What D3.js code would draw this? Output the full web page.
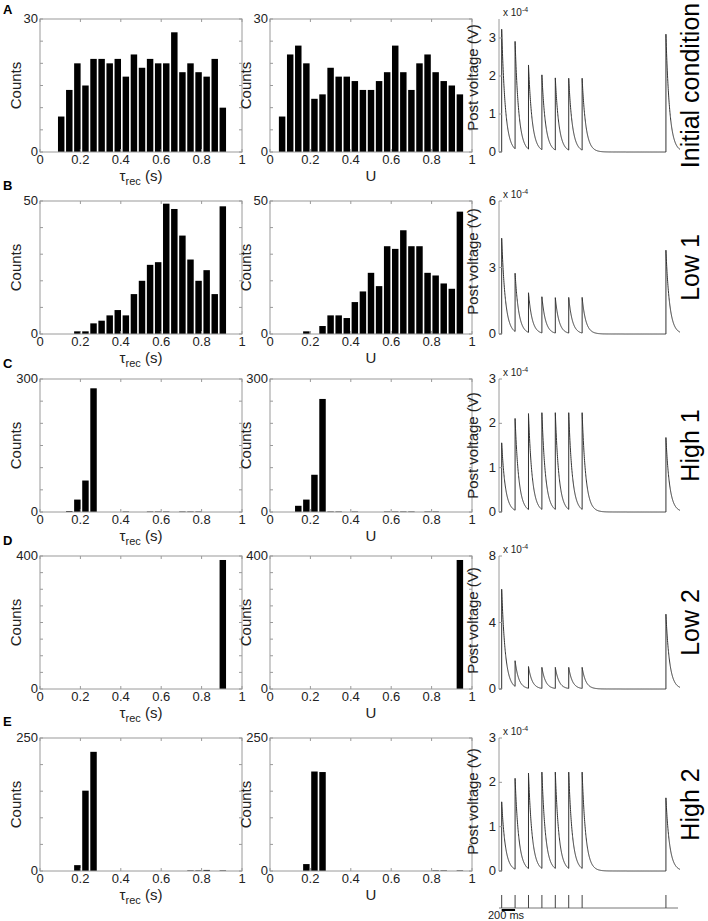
<!DOCTYPE html>
<html>
<head>
<meta charset="utf-8">
<script src="https://cdn.jsdelivr.net/npm/d3@7/dist/d3.min.js"></script>
<style>
  html, body { margin: 0; padding: 0; background: #fff; }
  svg { display: block; font-family: "Liberation Sans", Arial, Helvetica, sans-serif; }
</style>
</head>
<body>
<svg id="chart" width="708" height="921"></svg>
<script>
// ---------------- DATA ----------------
const rowNames = ["Initial condition", "Low 1", "High 1", "Low 2", "High 2"];
const panelLetters = ["A", "B", "C", "D", "E"];

// histogram bin centres
const tauBins = [0.105, 0.145, 0.185, 0.225, 0.265, 0.305, 0.345, 0.385, 0.425, 0.465, 0.505,
                 0.545, 0.585, 0.625, 0.665, 0.705, 0.745, 0.785, 0.825, 0.865, 0.905];
const uBins = [0.06, 0.10, 0.14, 0.18, 0.22, 0.26, 0.30, 0.34, 0.38, 0.42, 0.46, 0.50,
               0.54, 0.58, 0.62, 0.66, 0.70, 0.74, 0.78, 0.82, 0.86, 0.90, 0.94];

// counts per bin (tau_rec)
const tauInit  = [8, 14, 20, 15, 21, 21, 20, 21, 17, 22, 19, 21, 20, 20, 27, 18, 20, 18, 17, 21, 10];
const tauLow1  = [0, 0, 1, 1, 4, 5, 7, 9, 7, 15, 20, 26, 27, 49, 47, 37, 28, 20, 24, 15, 48];
const tauHigh1 = [0, 2, 28, 71, 279, 0, 0, 0, 1, 0, 0, 1, 1, 1, 0, 1, 1, 1, 0, 0, 0];
const tauLow2  = [0, 0, 0, 0, 0, 0, 0, 0, 0, 0, 0, 0, 0, 0, 0, 0, 0, 0, 0, 0, 388];
const tauHigh2 = [0, 0, 11, 151, 224, 0, 0, 0, 0, 0, 0, 0, 0, 0, 0, 0, 1, 1, 2, 0, 1];

// counts per bin (U)
const uInit  = [8, 22, 24, 20, 12, 13, 19, 17, 17, 16, 14, 14, 16, 18, 24, 18, 14, 20, 22, 18, 16, 15, 13];
const uLow1  = [0, 0, 0, 1, 0, 3, 7, 7, 6, 12, 16, 23, 18, 33, 32, 39, 33, 33, 23, 22, 19, 17, 46];
const uHigh1 = [0, 0, 14, 28, 84, 255, 1, 1, 0, 1, 0, 0, 0, 1, 1, 1, 1, 0, 1, 1, 0, 0, 0];
const uLow2  = [0, 0, 0, 0, 0, 0, 0, 0, 0, 0, 0, 0, 0, 0, 0, 0, 0, 0, 0, 0, 0, 0, 388];
const uHigh2 = [0, 0, 0, 13, 187, 186, 0, 0, 0, 0, 0, 0, 0, 0, 0, 0, 0, 0, 0, 1, 1, 0, 1];

const countMax  = [30, 50, 300, 400, 250];
const countStep = [5, 10, 50, 50, 50];
const xTicks = [0, 0.2, 0.4, 0.6, 0.8, 1];

// voltage traces: spike times (ms) and peak voltages (x 1e-4 V)
const spikeTimes = [40, 240, 440, 640, 840, 1040, 1240, 2490];
const peaksInit  = [3.23, 2.91, 2.29, 2.03, 1.95, 1.94, 1.94, 3.10];
const peaksLow1  = [4.32, 2.74, 1.86, 1.68, 1.64, 1.65, 1.65, 3.78];
const peaksHigh1 = [1.56, 2.11, 2.22, 2.24, 2.24, 2.24, 2.24, 1.68];
const peaksLow2  = [6.00, 1.70, 1.35, 1.30, 1.30, 1.30, 1.30, 4.50];
const peaksHigh2 = [1.56, 2.09, 2.21, 2.23, 2.23, 2.23, 2.23, 1.65];
const voltMax   = [3.5, 6, 3, 8, 3];
const voltTicks = [[0, 1, 2, 3], [0, 3, 6], [0, 1, 2, 3], [0, 4, 8], [0, 1, 2, 3]];
const timeDomain = [0, 2700];
const decayTau = 55; // ms
const scaleBarMs = 200;

const tauRows  = [tauInit, tauLow1, tauHigh1, tauLow2, tauHigh2];
const uRows    = [uInit, uLow1, uHigh1, uLow2, uHigh2];
const peakRows = [peaksInit, peaksLow1, peaksHigh1, peaksLow2, peaksHigh2];

// ---------------- LAYOUT ----------------
const rowTop = [19, 201, 379, 556, 738];
const rowH = 133;
const hist1X = [40, 242], hist2X = [270, 472], voltX = [499, 680];
const letterY = [14, 190, 368, 545, 726];
const vLabelShift = [-8, -6, 0, -2, -3];
const barFrac = 0.8, binW = 0.04;
const boxColor = "#9a9a9a", textColor = "#222";

const svg = d3.select("#chart");

function histogram(g, xr, top, counts, centers, ymax, ystep, xlabel) {
  const x = d3.scaleLinear().domain([0, 1]).range(xr);
  const y = d3.scaleLinear().domain([0, ymax]).range([top + rowH, top]);
  const bottom = top + rowH;
  const data = centers.map((c, i) => ({c, v: counts[i]})).filter(d => d.v > 0);
  g.append("g").selectAll("rect").data(data).join("rect")
    .attr("x", d => x(d.c - binW * barFrac / 2))
    .attr("width", d => x(binW * barFrac) - x(0))
    .attr("y", d => y(d.v))
    .attr("height", d => Math.max(0.5, y(0) - y(d.v)))
    .attr("fill", "#000");
  g.append("rect").attr("x", xr[0]).attr("y", top).attr("width", xr[1] - xr[0]).attr("height", rowH)
    .attr("fill", "none").attr("stroke", boxColor).attr("stroke-width", 1);
  const xt = g.append("g");
  xTicks.forEach(t => {
    xt.append("line").attr("x1", x(t)).attr("x2", x(t)).attr("y1", bottom).attr("y2", bottom - 3).attr("stroke", boxColor);
    xt.append("line").attr("x1", x(t)).attr("x2", x(t)).attr("y1", top).attr("y2", top + 3).attr("stroke", boxColor);
    xt.append("text").attr("x", x(t)).attr("y", bottom + 12).attr("text-anchor", "middle")
      .attr("font-size", 13).attr("fill", textColor).text(d3.format("")(t));
  });
  const yv = d3.range(0, ymax + ystep / 2, ystep);
  yv.forEach(v => {
    g.append("line").attr("x1", xr[0]).attr("x2", xr[0] + 3).attr("y1", y(v)).attr("y2", y(v)).attr("stroke", boxColor);
    g.append("line").attr("x1", xr[1]).attr("x2", xr[1] - 3).attr("y1", y(v)).attr("y2", y(v)).attr("stroke", boxColor);
  });
  [0, ymax].forEach(v => {
    g.append("text").attr("x", xr[0] - 2).attr("y", y(v) + 4).attr("text-anchor", "end")
      .attr("font-size", 13).attr("fill", textColor).text(v);
  });
  g.append("text").attr("transform", `translate(${xr[0] - 19},${top + rowH / 2}) rotate(-90)`)
    .attr("text-anchor", "middle").attr("font-size", 15).attr("fill", textColor).text("Counts");
  const cx = (xr[0] + xr[1]) / 2;
  const lab = g.append("text").attr("x", cx).attr("y", bottom + 29).attr("text-anchor", "middle")
    .attr("font-size", 15).attr("fill", textColor);
  if (xlabel === "tau") {
    lab.append("tspan").text("τ");
    lab.append("tspan").attr("font-size", 11).attr("dy", 4).text("rec");
    lab.append("tspan").attr("dy", -4).text(" (s)");
  } else {
    lab.text("U");
  }
}

function voltage(g, top, peaks, vmax, ticks, shift) {
  const x = d3.scaleLinear().domain(timeDomain).range(voltX);
  const y = d3.scaleLinear().domain([0, vmax]).range([top + rowH, top]);
  const pts = [[timeDomain[0], 0]];
  spikeTimes.forEach((t0, k) => {
    const tEnd = k + 1 < spikeTimes.length ? spikeTimes[k + 1] : timeDomain[1];
    const prev = pts[pts.length - 1][1];
    pts.push([t0, prev]);
    for (let t = t0; t <= tEnd; t += 2) pts.push([t, peaks[k] * Math.exp(-(t - t0) / decayTau)]);
  });
  g.append("path").datum(pts)
    .attr("d", d3.line().x(d => x(d[0])).y(d => y(d[1])))
    .attr("fill", "none").attr("stroke", "#333").attr("stroke-width", 1);
  g.append("line").attr("x1", voltX[0]).attr("x2", voltX[0]).attr("y1", top).attr("y2", top + rowH)
    .attr("stroke", boxColor);
  ticks.forEach(v => {
    g.append("line").attr("x1", voltX[0]).attr("x2", voltX[0] + 3).attr("y1", y(v)).attr("y2", y(v)).attr("stroke", boxColor);
    g.append("text").attr("x", voltX[0] - 3).attr("y", y(v) + 4).attr("text-anchor", "end")
      .attr("font-size", 13).attr("fill", textColor).text(v);
  });
  const ex = g.append("text").attr("x", voltX[0] + 4).attr("y", top - 3).attr("font-size", 10).attr("fill", textColor);
  ex.append("tspan").text("x 10");
  ex.append("tspan").attr("font-size", 7).attr("dy", -4).text("-4");
  g.append("text").attr("transform", `translate(${voltX[0] - 21},${top + rowH / 2 + shift}) rotate(-90)`)
    .attr("text-anchor", "middle").attr("font-size", 15).attr("fill", textColor).text("Post voltage (V)");
  return x;
}

let lastX;
rowNames.forEach((name, r) => {
  const g = svg.append("g");
  const top = rowTop[r];
  histogram(g, hist1X, top, tauRows[r], tauBins, countMax[r], countStep[r], "tau");
  histogram(g, hist2X, top, uRows[r], uBins, countMax[r], countStep[r], "U");
  lastX = voltage(g, top, peakRows[r], voltMax[r], voltTicks[r], vLabelShift[r]);
  g.append("text").attr("x", 3).attr("y", letterY[r]).attr("font-size", 13).attr("font-weight", "bold")
    .attr("fill", "#000").text(panelLetters[r]);
  g.append("text").attr("transform", `translate(${699},${top + rowH / 2}) rotate(-90)`)
    .attr("text-anchor", "middle").attr("font-size", 25).attr("fill", "#000").text(name);
});

// spike raster and scale bar under the last trace
const ras = svg.append("g");
const rasBase = 908;
ras.append("line").attr("x1", voltX[0]).attr("x2", voltX[1] - 2).attr("y1", rasBase).attr("y2", rasBase)
  .attr("stroke", "#777").attr("stroke-width", 1);
ras.selectAll("line.sp").data(spikeTimes).join("line").attr("class", "sp")
  .attr("x1", d => lastX(d)).attr("x2", d => lastX(d)).attr("y1", rasBase - 13).attr("y2", rasBase)
  .attr("stroke", "#444").attr("stroke-width", 1);
ras.append("line").attr("x1", lastX(spikeTimes[0])).attr("x2", lastX(spikeTimes[0] + scaleBarMs))
  .attr("y1", rasBase + 2).attr("y2", rasBase + 2).attr("stroke", "#000").attr("stroke-width", 2);
ras.append("text").attr("x", 488).attr("y", 919).attr("font-size", 11).attr("fill", textColor).text("200 ms");
</script>
</body>
</html>
